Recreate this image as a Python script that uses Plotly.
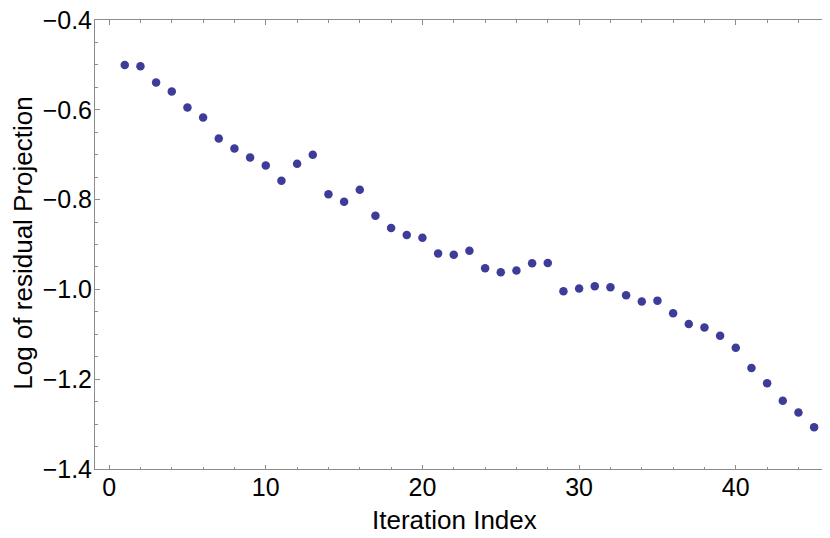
import plotly.graph_objects as go

iteration = list(range(1, 46))
log_residual = [
    -0.500, -0.503, -0.539, -0.559, -0.595, -0.617, -0.664, -0.686, -0.706, -0.724,
    -0.758, -0.720, -0.700, -0.788, -0.805, -0.778, -0.836, -0.863, -0.879, -0.885,
    -0.920, -0.923, -0.914, -0.953, -0.962, -0.958, -0.942, -0.941, -1.004, -0.998,
    -0.993, -0.995, -1.013, -1.027, -1.025, -1.053, -1.077, -1.085, -1.103, -1.130,
    -1.175, -1.209, -1.248, -1.274, -1.307,
]
x_ticks = [0, 10, 20, 30, 40]
y_ticks = [-1.4, -1.2, -1.0, -0.8, -0.6, -0.4]
y_tick_text = ["\u22121.4", "\u22121.2", "\u22121.0", "\u22120.8", "\u22120.6", "\u22120.4"]
x_title = "Iteration Index"
y_title = "Log of residual Projection"

fig = go.Figure()
fig.add_trace(go.Scatter(
    x=iteration, y=log_residual, mode="markers",
    marker=dict(size=8.5, color="#3d3d99", line=dict(width=0)),
    showlegend=False,
))

font = dict(family="Liberation Sans, Arial, sans-serif", size=26, color="black")
tick_font = dict(family="Liberation Sans, Arial, sans-serif", size=25, color="black")
frame = "#8c8c8c"

# page body has an 8px default margin, so the figure is sized to fit the window
fig.update_layout(
    width=822, height=530,
    margin=dict(l=87, r=1, t=12, b=69),
    paper_bgcolor="white", plot_bgcolor="white",
    font=font,
)
fig.update_xaxes(
    range=[-0.9, 45.95], tickvals=x_ticks, ticks="inside", ticklen=4.5, tickwidth=1,
    tickcolor=frame, showline=True, linecolor=frame, linewidth=1, mirror="ticks",
    showgrid=False, zeroline=False, tickfont=tick_font, automargin=False,
    ticklabeloverflow="allow", ticklabelstandoff=-4,
    minor=dict(ticks="inside", ticklen=2.5, tickwidth=1, tickcolor=frame, dtick=2, tick0=0, showgrid=False),
)
fig.update_yaxes(
    range=[-1.4, -0.4], tickvals=y_ticks, ticktext=y_tick_text, ticks="inside", ticklen=4.5,
    tickwidth=1, tickcolor=frame, showline=True, linecolor=frame, linewidth=1, mirror="ticks",
    showgrid=False, zeroline=False, tickfont=tick_font, automargin=False,
    ticklabeloverflow="allow", ticklabelstandoff=-3,
    minor=dict(ticks="inside", ticklen=2.5, tickwidth=1, tickcolor=frame, dtick=0.05, tick0=-1.4, showgrid=False),
)
fig.add_annotation(
    text=x_title, xref="paper", yref="paper", x=0.49, y=-0.113, xanchor="center", yanchor="middle",
    showarrow=False, font=font,
)
fig.add_annotation(
    text=y_title, xref="paper", yref="paper", x=-0.0981, y=0.504, xanchor="center", yanchor="middle",
    textangle=-90, showarrow=False, font=font,
)

fig.write_html("out.html")
